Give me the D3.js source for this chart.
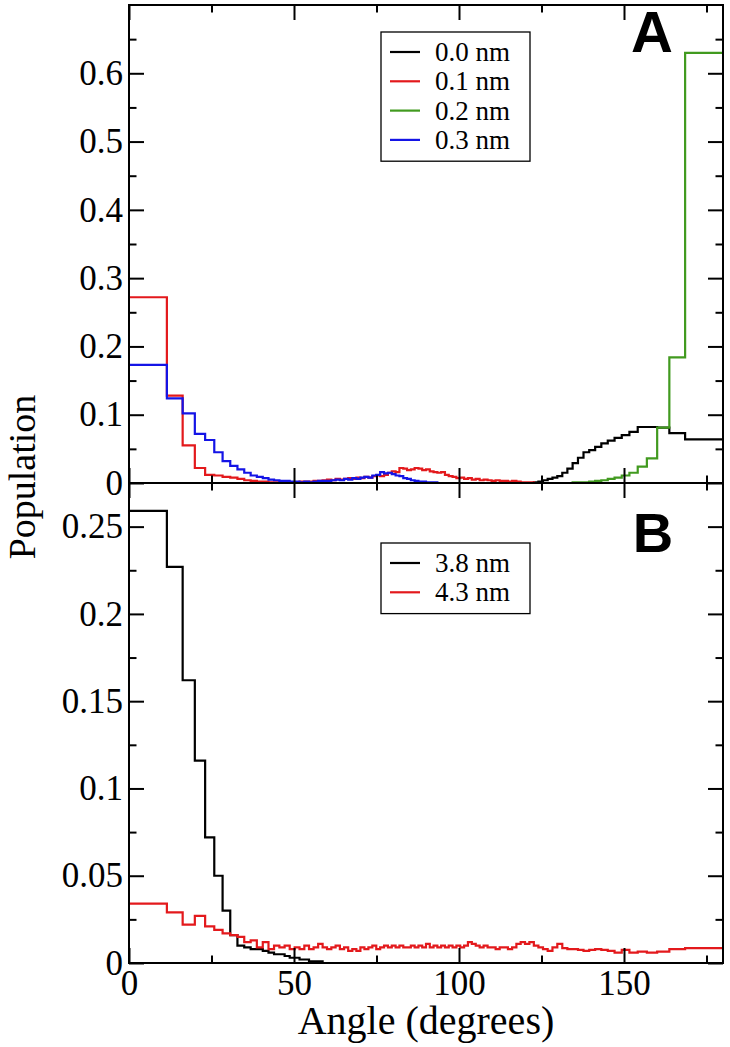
<!DOCTYPE html>
<html>
<head>
<meta charset="utf-8">
<script src="https://cdn.jsdelivr.net/npm/d3@7"></script>
<style>
  body { margin: 0; background: #fff; }
  svg text { font-family: "Liberation Serif", "Times New Roman", serif; }
</style>
</head>
<body>
<svg id="chart" width="730" height="1047"></svg>
<script>
// bin edges in degrees (the histogram bins are equal steps in cos(angle))
const binEdges = [
  0, 11.48, 16.26, 19.95, 23.07, 25.84, 28.36, 30.68, 32.86, 34.92,
  36.87, 38.74, 40.54, 42.27, 43.95, 45.57, 47.16, 48.70, 50.21, 51.68,
  53.13, 54.55, 55.94, 57.32, 58.67, 60.00, 61.31, 62.61, 63.90, 65.17,
  66.42, 67.67, 68.90, 70.12, 71.34, 72.54, 73.74, 74.93, 76.11, 77.29,
  78.46, 79.63, 80.79, 81.95, 83.11, 84.26, 85.41, 86.56, 87.71, 88.85,
  90.00, 91.15, 92.29, 93.44, 94.59, 95.74, 96.89, 98.05, 99.21, 100.37,
  101.54, 102.71, 103.89, 105.07, 106.26, 107.46, 108.66, 109.88, 111.10, 112.33,
  113.58, 114.83, 116.10, 117.39, 118.69, 120.00, 121.33, 122.68, 124.06, 125.45,
  126.87, 128.32, 129.79, 131.30, 132.84, 134.43, 136.05, 137.73, 139.46, 141.26,
  143.13, 145.08, 147.14, 149.32, 151.64, 154.16, 156.93, 160.05, 163.74, 168.52,
  180
];

// Panel A series (one value per bin)
const popA_00 = [
  0,0,0,0,0,0,0,0,0,0,
  0,0,0,0,0,0,0,0,0,0,
  0,0,0,0,0,0,0,0,0,0,
  0,0,0,0,0,0,0,0,0,0,
  0,0,0,0,0,0,0,0,0,0,
  0,0,0,0,0,0,0,0,0,0,
  0,0,0,0,0,0,0,0,0,0,
  0,0,0,0,0,0,0,0.001,0.002,0.004,
  0.006,0.008,0.010,0.015,0.021,0.029,0.037,0.045,0.048,0.053,
  0.058,0.062,0.066,0.070,0.075,0.082,0.082,0.081,0.073,0.064
];
const popA_01 = [
  0.272,0.128,0.055,0.022,0.012,0.011,0.009,0.008,0.006,0.004,
  0.003,0.002,0.002,0.001,0.001,0.001,0.001,0.001,0.001,0.002,
  0.002,0.002,0.003,0.003,0.004,0.005,0.004,0.006,0.005,0.006,
  0.007,0.006,0.008,0.007,0.009,0.008,0.010,0.011,0.010,0.012,
  0.015,0.017,0.016,0.022,0.021,0.019,0.020,0.022,0.021,0.019,
  0.020,0.017,0.016,0.015,0.016,0.012,0.010,0.009,0.007,0.008,
  0.006,0.007,0.005,0.006,0.004,0.005,0.004,0.003,0.004,0.003,
  0.003,0.002,0.003,0.002,0.001,0.001,0.001,0,0,0,
  0,0,0,0,0,0,0,0,0,0,
  0,0,0,0,0,0,0,0,0,0
];
const popA_02 = [
  0,0,0,0,0,0,0,0,0,0,
  0,0,0,0,0,0,0,0,0,0,
  0,0,0,0,0,0,0,0,0,0,
  0,0,0,0,0,0,0,0,0,0,
  0,0,0,0,0,0,0,0,0,0,
  0,0,0,0,0,0,0,0,0,0,
  0,0,0,0,0,0,0,0,0,0,
  0,0,0,0,0,0,0,0,0,0,
  0,0,0,0,0,0.001,0.001,0.001,0.002,0.003,
  0.004,0.006,0.008,0.011,0.015,0.024,0.036,0.081,0.184,0.630
];
const popA_03 = [
  0.173,0.124,0.102,0.072,0.063,0.045,0.032,0.025,0.020,0.015,
  0.011,0.009,0.007,0.005,0.004,0.003,0.003,0.002,0.002,0.001,
  0.002,0.001,0.002,0.003,0.003,0.003,0.004,0.005,0.004,0.006,
  0.005,0.007,0.006,0.008,0.009,0.008,0.011,0.012,0.016,0.014,
  0.015,0.013,0.011,0.010,0.007,0.006,0.004,0.003,0.002,0.002,
  0.001,0.001,0.001,0,0,0,0,0,0,0,
  0,0,0,0,0,0,0,0,0,0,
  0,0,0,0,0,0,0,0,0,0,
  0,0,0,0,0,0,0,0,0,0,
  0,0,0,0,0,0,0,0,0,0
];

// Panel B series
const popB_38 = [
  0.259,0.227,0.162,0.116,0.072,0.050,0.030,0.016,0.010,0.009,
  0.008,0.008,0.007,0.006,0.005,0.005,0.004,0.003,0.003,0.002,
  0.002,0.001,0.001,0.001,0,0,0,0,0,0,
  0,0,0,0,0,0,0,0,0,0,
  0,0,0,0,0,0,0,0,0,0,
  0,0,0,0,0,0,0,0,0,0,
  0,0,0,0,0,0,0,0,0,0,
  0,0,0,0,0,0,0,0,0,0,
  0,0,0,0,0,0,0,0,0,0,
  0,0,0,0,0,0,0,0,0,0
];
const popB_43 = [
  0.034,0.029,0.022,0.027,0.021,0.019,0.017,0.016,0.015,0.012,
  0.013,0.009,0.012,0.008,0.010,0.009,0.010,0.008,0.009,0.008,
  0.010,0.008,0.009,0.011,0.009,0.008,0.009,0.010,0.008,0.009,
  0.007,0.008,0.007,0.009,0.008,0.009,0.010,0.008,0.009,0.010,
  0.009,0.010,0.009,0.010,0.009,0.009,0.010,0.009,0.010,0.009,
  0.011,0.009,0.010,0.009,0.010,0.009,0.010,0.009,0.010,0.009,
  0.010,0.012,0.011,0.010,0.009,0.010,0.009,0.009,0.008,0.009,
  0.009,0.008,0.009,0.011,0.012,0.011,0.012,0.010,0.009,0.008,
  0.007,0.009,0.011,0.0085,0.008,0.008,0.0075,0.007,0.0075,0.008,
  0.0075,0.007,0.006,0.0075,0.006,0.0065,0.006,0.0065,0.008,0.0085
];

const labelsA = ["0.0 nm", "0.1 nm", "0.2 nm", "0.3 nm"];
const labelsB = ["3.8 nm", "4.3 nm"];
const xMajor = [0, 50, 100, 150];
const xMinor = [25, 75, 125, 175];
const yMajorA = [0, 0.1, 0.2, 0.3, 0.4, 0.5, 0.6];
const yMinorA = [0.05, 0.15, 0.25, 0.35, 0.45, 0.55, 0.65];
const yMajorB = [0, 0.05, 0.1, 0.15, 0.2, 0.25];
const yMinorB = [0.025, 0.075, 0.125, 0.175, 0.225];

const colors = ["#000000", "#e3191c", "#419a1f", "#1414e6"];

const svg = d3.select("#chart");
const left = 129, right = 723;

const x = d3.scaleLinear().domain([0, 180]).range([left, right]);
const yA = d3.scaleLinear().domain([0, 0.7]).range([483, 5]);
const yB = d3.scaleLinear().domain([0, 0.275]).range([963, 483]);

function styleAxis(g) {
    g.select(".domain").remove();
    g.selectAll("line").attr("stroke", "#000").attr("stroke-width", 2);
    g.selectAll("text")
        .attr("font-family", "Liberation Serif, serif")
        .attr("font-size", 35)
        .attr("fill", "#000");
}

function drawAxes(y, yMajor, yMinor, showX) {
    let top = y.range()[1], bottom = y.range()[0];

    // left
    svg.append("g").attr("transform", "translate(" + left + ",0)")
        .call(d3.axisLeft(y).tickValues(yMajor).tickSize(-15).tickPadding(6)
            .tickFormat(d => d === 0 ? "0" : String(+d.toFixed(3))))
        .call(styleAxis);
    svg.append("g").attr("transform", "translate(" + left + ",0)")
        .call(d3.axisLeft(y).tickValues(yMinor).tickSize(-7.5).tickFormat(""))
        .call(styleAxis);
    // right
    svg.append("g").attr("transform", "translate(" + right + ",0)")
        .call(d3.axisRight(y).tickValues(yMajor).tickSize(-15).tickFormat(""))
        .call(styleAxis);
    svg.append("g").attr("transform", "translate(" + right + ",0)")
        .call(d3.axisRight(y).tickValues(yMinor).tickSize(-7.5).tickFormat(""))
        .call(styleAxis);
    // top
    svg.append("g").attr("transform", "translate(0," + top + ")")
        .call(d3.axisTop(x).tickValues(xMajor).tickSize(-15).tickFormat(""))
        .call(styleAxis);
    svg.append("g").attr("transform", "translate(0," + top + ")")
        .call(d3.axisTop(x).tickValues(xMinor).tickSize(-7.5).tickFormat(""))
        .call(styleAxis);
    // bottom
    svg.append("g").attr("transform", "translate(0," + bottom + ")")
        .call(d3.axisBottom(x).tickValues(xMajor).tickSize(-15).tickPadding(7)
            .tickFormat(showX ? d3.format("d") : ""))
        .call(styleAxis);
    svg.append("g").attr("transform", "translate(0," + bottom + ")")
        .call(d3.axisBottom(x).tickValues(xMinor).tickSize(-7.5).tickFormat(""))
        .call(styleAxis);
}

function drawSeries(y, values, color) {
    let pts = values.map((v, i) => [binEdges[i], v]);
    pts.push([binEdges[binEdges.length - 1], values[values.length - 1]]);
    let line = d3.line()
        .x(d => x(d[0]))
        .y(d => y(d[1]))
        .curve(d3.curveStepAfter);
    svg.append("path")
        .datum(pts)
        .attr("d", line)
        .attr("fill", "none")
        .attr("stroke", color)
        .attr("stroke-width", 2.2);
}

function drawLegend(labels, boxX, boxY, boxW, rowH) {
    let boxH = rowH * labels.length + 12;
    svg.append("rect")
        .attr("x", boxX).attr("y", boxY)
        .attr("width", boxW).attr("height", boxH)
        .attr("fill", "#fff").attr("stroke", "#000").attr("stroke-width", 1.3);
    labels.forEach((lab, i) => {
        let cy = boxY + 20 + i * rowH;
        svg.append("line")
            .attr("x1", boxX + 9).attr("x2", boxX + 39)
            .attr("y1", cy).attr("y2", cy)
            .attr("stroke", colors[i]).attr("stroke-width", 2.2);
        svg.append("text")
            .attr("x", boxX + 54).attr("y", cy + 9)
            .attr("font-size", 27)
            .text(lab);
    });
}

// Panel A
[popA_00, popA_01, popA_02, popA_03].forEach((s, i) => drawSeries(yA, s, colors[i]));
drawAxes(yA, yMajorA, yMinorA, false);
drawLegend(labelsA, 381, 32, 149, 29.3);

// Panel B
[popB_38, popB_43].forEach((s, i) => drawSeries(yB, s, colors[i]));
drawAxes(yB, yMajorB, yMinorB, true);
drawLegend(labelsB, 381, 543, 149, 29.3);

// frames
svg.append("rect").attr("x", left).attr("y", 5)
    .attr("width", right - left).attr("height", 478)
    .attr("fill", "none").attr("stroke", "#000").attr("stroke-width", 2);
svg.append("rect").attr("x", left).attr("y", 483)
    .attr("width", right - left).attr("height", 480)
    .attr("fill", "none").attr("stroke", "#000").attr("stroke-width", 2);

// panel letters
svg.append("text").attr("x", 652).attr("y", 52)
    .attr("text-anchor", "middle")
    .style("font-family", "Liberation Sans, Arial, sans-serif")
    .attr("font-weight", "bold").attr("font-size", 58)
    .text("A");
svg.append("text").attr("x", 653).attr("y", 552)
    .attr("text-anchor", "middle")
    .style("font-family", "Liberation Sans, Arial, sans-serif")
    .attr("font-weight", "bold").attr("font-size", 56)
    .text("B");

// axis titles
svg.append("text")
    .attr("x", (left + right) / 2).attr("y", 1034)
    .attr("text-anchor", "middle")
    .attr("font-size", 40)
    .text("Angle (degrees)");
svg.append("text")
    .attr("transform", "translate(35,477) rotate(-90)")
    .attr("text-anchor", "middle")
    .attr("font-size", 38)
    .text("Population");
</script>
</body>
</html>
